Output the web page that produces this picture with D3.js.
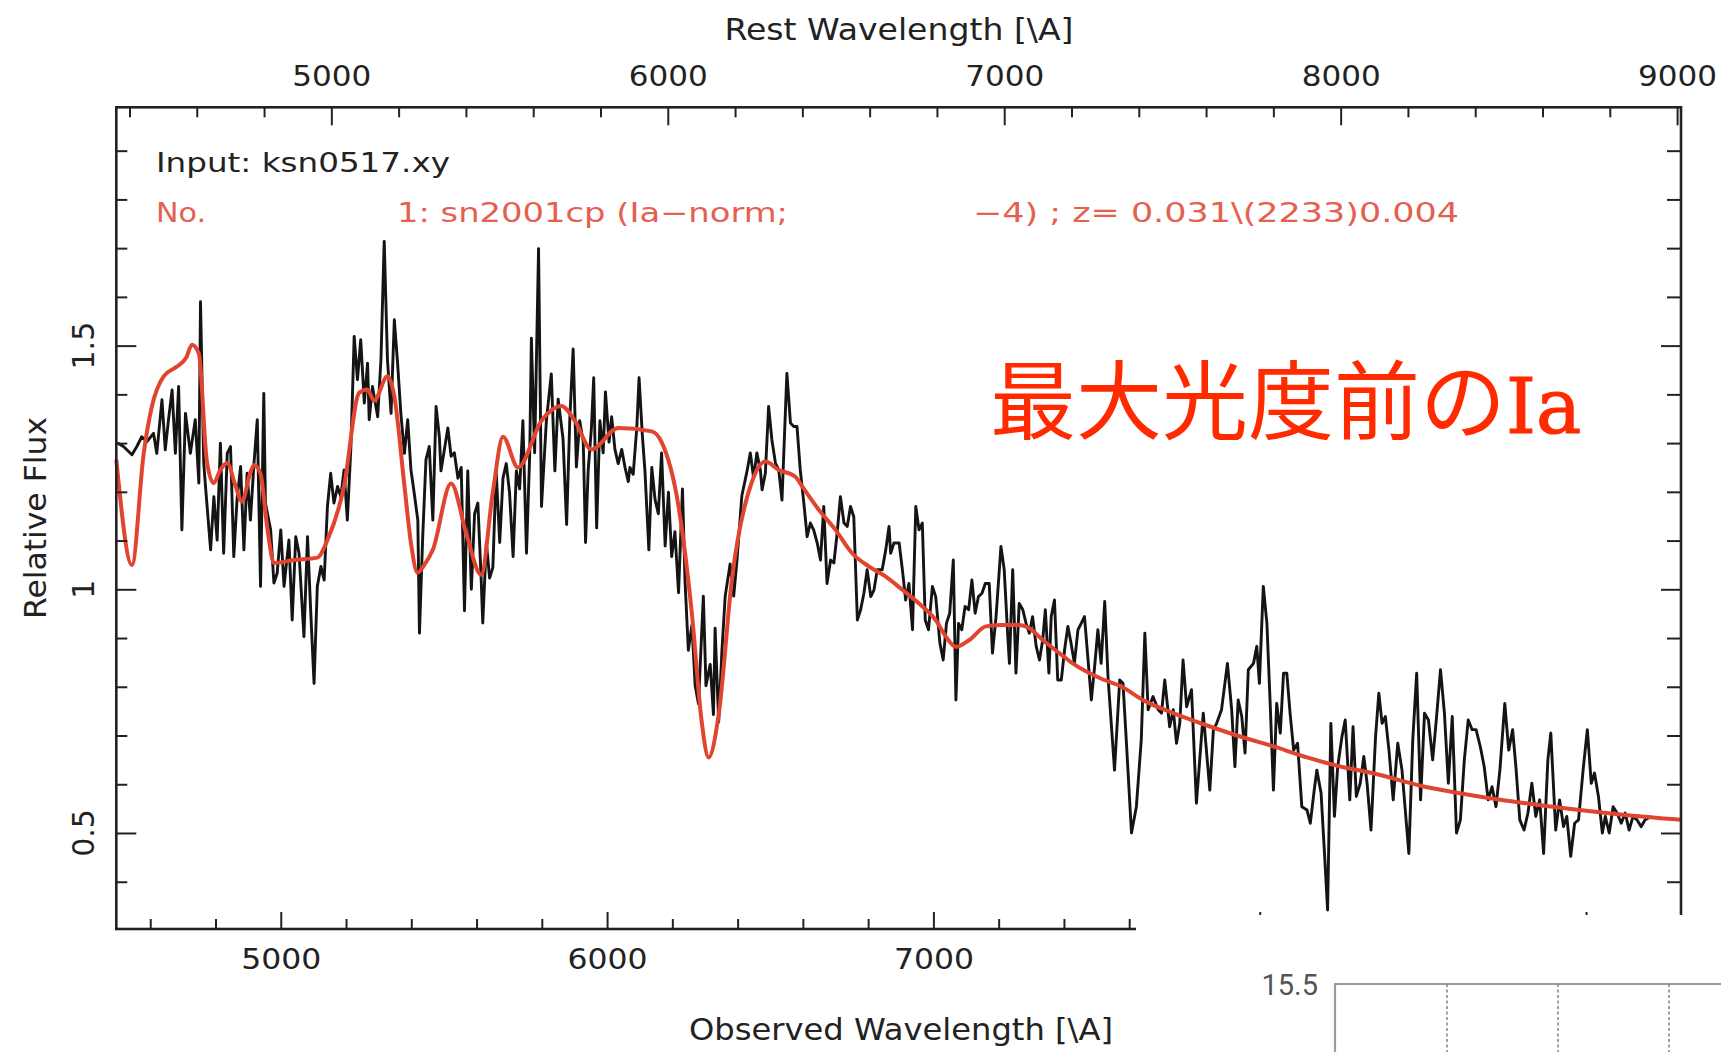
<!DOCTYPE html>
<html><head><meta charset="utf-8">
<script src="https://cdn.jsdelivr.net/npm/d3@7"></script>
<style>body{margin:0;background:#fff;}svg{display:block;}</style>
</head><body>
<svg id="c" width="1721" height="1052"></svg>
<script>
// observed spectrum: [observed wavelength (A), relative flux]
const obsSpectrum = [
[4500,1.300],[4518,1.293],[4544,1.276],[4559,1.293],[4574,1.313],[4590,1.303],[4610,1.320],[4620,1.279],[4636,1.389],[4646,1.286],[4656,1.348],[4667,1.409],[4677,1.279],[4687,1.416],[4697,1.122],[4708,1.361],[4723,1.279],[4738,1.348],[4749,1.218],[4754,1.590],[4764,1.259],[4769,1.214],[4785,1.081],[4795,1.190],[4805,1.101],[4815,1.300],[4825,1.074],[4836,1.279],[4846,1.293],[4856,1.067],[4866,1.184],[4877,1.252],[4887,1.081],[4897,1.238],[4907,1.142],[4918,1.259],[4928,1.348],[4938,1.006],[4948,1.402],[4953,1.177],[4969,1.122],[4979,1.013],[4989,1.033],[5000,1.122],[5010,1.006],[5025,1.101],[5035,0.937],[5046,1.108],[5056,1.074],[5071,0.903],[5082,1.108],[5092,0.951],[5102,0.807],[5112,1.006],[5123,1.047],[5133,1.019],[5143,1.170],[5153,1.238],[5163,1.177],[5174,1.211],[5184,1.190],[5194,1.245],[5204,1.142],[5215,1.293],[5225,1.519],[5235,1.430],[5245,1.512],[5256,1.382],[5266,1.464],[5271,1.348],[5281,1.416],[5297,1.354],[5307,1.471],[5317,1.714],[5327,1.471],[5338,1.361],[5348,1.553],[5358,1.464],[5368,1.361],[5379,1.279],[5389,1.348],[5399,1.245],[5409,1.197],[5420,1.142],[5425,0.910],[5435,1.108],[5445,1.266],[5455,1.293],[5466,1.142],[5476,1.375],[5486,1.313],
[5491,1.243],[5512,1.331],[5522,1.273],[5532,1.280],[5543,1.228],[5553,1.250],[5563,0.956],[5573,1.243],[5584,1.000],[5594,1.155],[5604,1.177],[5614,1.023],[5619,0.931],[5630,1.096],[5640,1.023],[5650,1.045],[5660,1.243],[5671,1.096],[5681,1.228],[5691,1.258],[5701,1.199],[5712,1.067],[5722,1.243],[5732,1.206],[5742,1.346],[5753,1.074],[5763,1.280],[5768,1.515],[5778,1.280],[5790,1.699],[5799,1.170],[5814,1.346],[5829,1.442],[5840,1.243],[5850,1.390],[5865,1.309],[5876,1.133],[5886,1.354],[5896,1.493],[5906,1.251],[5916,1.346],[5927,1.302],[5934,1.096],[5942,1.243],[5952,1.331],[5959,1.434],[5968,1.126],[5978,1.346],[5988,1.280],[5995,1.405],[6006,1.302],[6014,1.354],[6024,1.287],[6034,1.258],[6045,1.287],[6055,1.250],[6065,1.221],[6070,1.250],[6080,1.236],[6091,1.331],[6098,1.434],[6108,1.317],[6116,1.243],[6128,1.081],[6137,1.250],[6147,1.184],[6157,1.155],[6167,1.280],[6178,1.089],[6188,1.199],[6198,1.067],[6208,1.118],[6219,0.993],[6231,1.206],[6239,1.015],[6249,0.875],[6260,0.927],[6270,0.802],[6280,0.765],[6295,0.986],[6303,0.802],[6316,0.846],[6326,0.743],[6331,0.920],[6342,0.728],[6352,0.875],[6362,0.986],[6377,1.052],[6388,0.986],[6398,1.059],[6413,1.192],[6429,1.243],[6439,1.280],[6449,1.228],[6459,1.280],[6470,1.243],
[6475,1.204],[6485,1.238],[6495,1.375],[6505,1.307],[6516,1.259],[6526,1.245],[6536,1.183],[6551,1.443],[6562,1.341],[6572,1.334],[6582,1.334],[6592,1.245],[6603,1.177],[6613,1.108],[6623,1.136],[6633,1.122],[6644,1.095],[6654,1.060],[6664,1.170],[6674,1.012],[6685,1.060],[6695,1.054],[6705,1.115],[6715,1.190],[6726,1.136],[6736,1.129],[6746,1.170],[6756,1.149],[6767,0.937],[6777,0.958],[6787,0.992],[6797,1.040],[6808,0.985],[6818,0.999],[6828,1.040],[6843,1.040],[6854,1.081],[6864,1.129],[6869,1.074],[6879,1.095],[6895,1.095],[6905,1.040],[6915,0.978],[6925,1.012],[6936,0.917],[6946,1.170],[6956,1.122],[6966,1.136],[6975,0.937],[6985,0.917],[6997,1.006],[7007,0.985],[7020,0.889],[7030,0.855],[7040,0.930],[7050,0.951],[7061,1.060],[7069,0.773],[7077,0.930],[7087,0.917],[7097,0.965],[7108,0.958],[7118,1.019],[7128,0.951],[7138,0.985],[7149,0.992],[7159,1.012],[7171,1.012],[7181,0.869],[7192,0.944],[7207,1.088],[7217,1.040],[7228,0.903],[7233,0.848],[7243,1.040],[7253,0.828],[7263,0.971],[7274,0.958],[7284,0.930],[7294,0.910],[7304,0.944],[7315,0.883],[7325,0.855],[7335,0.896],[7343,0.958],[7354,0.828],[7361,0.944],[7371,0.978],[7381,0.814],[7392,0.814],[7402,0.876],[7412,0.924],[7422,0.889],[7432,0.848],[7443,0.917],[7453,0.930],
[7463,0.944],[7484,0.773],[7494,0.841],[7504,0.917],[7514,0.848],[7525,0.975],[7535,0.821],[7555,0.629],[7571,0.814],[7581,0.807],[7591,0.691],[7607,0.500],[7622,0.554],[7637,0.691],[7648,0.910],[7658,0.753],[7673,0.780],[7689,0.753],[7699,0.746],[7709,0.814],[7724,0.718],[7735,0.753],[7745,0.684],[7755,0.725],[7765,0.855],[7776,0.759],[7791,0.794],[7806,0.561],[7827,0.746],[7847,0.588],[7858,0.711],[7868,0.725],[7883,0.753],[7901,0.848],[7914,0.753],[7924,0.636],[7934,0.773],[7945,0.739],[7955,0.664],[7965,0.835],[7981,0.848],[7991,0.883],[7999,0.807],[8011,1.006],[8022,0.930],[8032,0.766],[8042,0.588],[8052,0.766],[8063,0.705],[8073,0.828],[8083,0.828],[8093,0.746],[8104,0.670],[8116,0.684],[8129,0.554],[8145,0.547],[8155,0.520],[8167,0.588],[8175,0.629],[8188,0.582],[8198,0.465],[8208,0.342],[8218,0.725],[8229,0.534],[8239,0.636],[8252,0.698],[8262,0.732],[8276,0.568],[8286,0.718],[8296,0.575],[8308,0.602],[8319,0.657],[8329,0.602],[8341,0.506],[8355,0.698],[8365,0.787],[8375,0.725],[8385,0.739],[8396,0.670],[8409,0.568],[8423,0.684],[8436,0.629],
[8457,0.458],[8469,0.691],[8481,0.828],[8493,0.568],[8505,0.746],[8517,0.732],[8530,0.650],[8542,0.739],[8554,0.835],[8566,0.746],[8578,0.602],[8590,0.739],[8603,0.500],[8615,0.527],[8627,0.650],[8639,0.732],[8651,0.712],[8663,0.712],[8676,0.677],[8688,0.636],[8700,0.568],[8712,0.595],[8724,0.554],[8736,0.629],[8751,0.766],[8763,0.670],[8775,0.712],[8785,0.636],[8797,0.527],[8810,0.506],[8822,0.541],[8834,0.602],[8846,0.534],[8858,0.568],[8870,0.458],[8883,0.650],[8892,0.705],[8907,0.506],[8919,0.568],[8931,0.513],[8941,0.534],[8953,0.452],[8965,0.520],[8977,0.527],[8992,0.636],[9004,0.712],[9016,0.602],[9026,0.623],[9038,0.575],[9050,0.500],[9059,0.534],[9071,0.500],[9083,0.554],[9095,0.541],[9108,0.520],[9120,0.541],[9132,0.506],[9144,0.534],[9156,0.527],[9169,0.513],[9181,0.527],[9199,0.534]
];
// template sn2001cp: [observed wavelength (A), relative flux]
const templateSpectrum = [
[4496,1.266],[4544,1.050],[4580,1.279],[4605,1.375],[4641,1.437],[4682,1.457],[4710,1.475],[4728,1.502],[4749,1.484],[4773,1.266],[4794,1.218],[4815,1.245],[4836,1.259],[4860,1.215],[4881,1.180],[4905,1.235],[4918,1.255],[4937,1.239],[4960,1.120],[4979,1.054],[5040,1.060],[5112,1.065],[5143,1.101],[5194,1.212],[5240,1.403],[5265,1.410],[5286,1.387],[5327,1.437],[5348,1.396],[5379,1.212],[5400,1.090],[5419,1.034],[5440,1.050],[5466,1.081],[5522,1.217],[5570,1.110],[5614,1.030],[5650,1.200],[5681,1.313],[5727,1.250],[5799,1.346],[5860,1.376],[5901,1.346],[5952,1.287],[6034,1.331],[6137,1.324],[6167,1.302],[6219,1.170],[6260,0.949],[6290,0.728],[6311,0.655],[6342,0.743],[6383,1.023],[6444,1.221],[6485,1.262],[6526,1.245],[6577,1.231],[6598,1.211],[6649,1.163],[6700,1.122],[6751,1.074],[6802,1.047],[6854,1.026],[6905,0.999],[6956,0.971],[7007,0.937],[7038,0.903],[7069,0.882],[7110,0.896],[7161,0.924],[7212,0.927],[7263,0.927],[7294,0.920],[7335,0.896],[7386,0.869],[7427,0.848],[7520,0.815],[7571,0.802],[7650,0.770],[7735,0.746],[7850,0.718],[7940,0.698],[8050,0.676],[8145,0.655],[8250,0.636],[8350,0.622],[8493,0.597],[8600,0.583],[8737,0.568],[8860,0.557],[8980,0.547],[9120,0.537],[9291,0.527]
];
const redshift = 0.031;
const obsMajorTicks = [5000,6000,7000,8000,9000];
const obsLabelTicks = [5000,6000,7000];   // 8000 and 9000 labels are hidden behind the overlapping panel
const obsMinorTicks = [4600,4800,5200,5400,5600,5800,6200,6400,6600,6800,7200,7400,7600,7800,8200,8400,8600,8800,9200];
const restMajorTicks = [5000,6000,7000,8000,9000];
const restMinorTicks = [4400,4600,4800,5200,5400,5600,5800,6200,6400,6600,6800,7200,7400,7600,7800,8200,8400,8600,8800];
const fluxMajorTicks = [0.5,1,1.5];
const fluxMinorTicks = [0.4,0.6,0.7,0.8,0.9,1.1,1.2,1.3,1.4,1.6,1.7,1.8,1.9];
const fluxTickLabels = ["0.5","1","1.5"];
const insetYTicks = [15.5];
const insetXGrid = [1,2,3];

const svg = d3.select("#c");
const L = 116.3, R = 1681, T = 107.3, B = 929;
const x = d3.scaleLinear().domain([4496, 9291]).range([L, R]);
const xRest = d3.scaleLinear().domain([4496/(1+redshift), 9291/(1+redshift)]).range([L, R]);
const y = d3.scaleLinear().domain([0.303, 1.989]).range([B, T]);
const AX = "#222";
const FONT = "'DejaVu Sans', sans-serif";

// spectra
svg.append("path").datum(obsSpectrum)
  .attr("d", d3.line().x(d=>x(d[0])).y(d=>y(d[1])))
  .attr("fill","none").attr("stroke","#141414").attr("stroke-width",2.9)
  .attr("stroke-linejoin","round");
svg.append("path").datum(templateSpectrum)
  .attr("d", d3.line().x(d=>x(d[0])).y(d=>y(d[1])).curve(d3.curveMonotoneX))
  .attr("fill","none").attr("stroke","#e2452f").attr("stroke-width",4)
  .attr("stroke-linejoin","round");

function addAxis(axis, tx, ty){
  const g = svg.append("g").attr("transform",`translate(${tx},${ty})`).call(axis);
  g.select(".domain").remove();
  g.selectAll("line").attr("stroke",AX).attr("stroke-width",2);
  g.selectAll("text").attr("fill",AX).attr("font-family",FONT);
  return g;
}
// bottom
addAxis(d3.axisBottom(x).tickValues(obsMajorTicks).tickSizeInner(-17).tickSizeOuter(0).tickFormat(""), 0, B);
const gb = addAxis(d3.axisBottom(x).tickValues(obsLabelTicks).tickSize(0).tickFormat(d3.format("d")), 0, B);
gb.selectAll("text").attr("y",40).attr("dy",null).attr("font-size",29).attr("textLength",80).attr("lengthAdjust","spacingAndGlyphs");
addAxis(d3.axisBottom(x).tickValues(obsMinorTicks).tickSizeInner(-10).tickSizeOuter(0).tickFormat(""), 0, B);
// top (rest wavelength)
const gt = addAxis(d3.axisTop(xRest).tickValues(restMajorTicks).tickSizeInner(-18).tickSizeOuter(0).tickPadding(21).tickFormat(d3.format("d")), 0, T);
gt.selectAll("text").attr("font-size",28).attr("textLength",79).attr("lengthAdjust","spacingAndGlyphs");
addAxis(d3.axisTop(xRest).tickValues(restMinorTicks).tickSizeInner(-10).tickSizeOuter(0).tickFormat(""), 0, T);
// left
addAxis(d3.axisLeft(y).tickValues(fluxMajorTicks).tickSizeInner(-20).tickSizeOuter(0).tickFormat(""), L, 0);
addAxis(d3.axisLeft(y).tickValues(fluxMinorTicks).tickSizeInner(-11).tickSizeOuter(0).tickFormat(""), L, 0);
// right
addAxis(d3.axisRight(y).tickValues(fluxMajorTicks).tickSizeInner(-20).tickSizeOuter(0).tickFormat(""), R, 0);
addAxis(d3.axisRight(y).tickValues(fluxMinorTicks).tickSizeInner(-14).tickSizeOuter(0).tickFormat(""), R, 0);
// rotated y tick labels
svg.append("g").selectAll("text").data(fluxMajorTicks).join("text")
  .attr("x",94).attr("y",d=>y(d))
  .attr("transform",d=>`rotate(-90,94,${y(d)})`)
  .attr("text-anchor","middle").attr("font-family",FONT).attr("font-size",30).attr("fill",AX)
  .text((d,i)=>fluxTickLabels[i]);

// frame
svg.append("rect").attr("x",L).attr("y",T).attr("width",R-L).attr("height",B-T)
  .attr("fill","none").attr("stroke",AX).attr("stroke-width",2.6);

// axis titles
svg.append("text").attr("x",899).attr("y",40).attr("text-anchor","middle")
  .attr("font-family",FONT).attr("font-size",30).attr("fill",AX)
  .attr("textLength",349).attr("lengthAdjust","spacingAndGlyphs").text("Rest Wavelength [\\A]");
svg.append("text").attr("x",901).attr("y",1040).attr("text-anchor","middle")
  .attr("font-family",FONT).attr("font-size",31).attr("fill",AX)
  .attr("textLength",424).attr("lengthAdjust","spacingAndGlyphs").text("Observed Wavelength [\\A]");
svg.append("text").attr("x",46).attr("y",518).attr("transform","rotate(-90,46,518)")
  .attr("text-anchor","middle").attr("font-family",FONT).attr("font-size",30).attr("fill",AX)
  .attr("textLength",202).attr("lengthAdjust","spacingAndGlyphs").text("Relative Flux");

// annotations
svg.append("text").attr("x",156).attr("y",172).attr("font-family",FONT).attr("font-size",27)
  .attr("fill",AX).attr("textLength",294).attr("lengthAdjust","spacingAndGlyphs").text("Input: ksn0517.xy");
const RED_T = "#e4604f";
svg.append("text").attr("x",156).attr("y",222).attr("font-family",FONT).attr("font-size",27)
  .attr("fill",RED_T).attr("textLength",50).attr("lengthAdjust","spacingAndGlyphs").text("No.");
svg.append("text").attr("x",397).attr("y",222).attr("font-family",FONT).attr("font-size",27)
  .attr("fill",RED_T).attr("textLength",391).attr("lengthAdjust","spacingAndGlyphs").text("1: sn2001cp (Ia\u2212norm;");
svg.append("text").attr("x",973).attr("y",222).attr("font-family",FONT).attr("font-size",27)
  .attr("fill",RED_T).attr("textLength",486).attr("lengthAdjust","spacingAndGlyphs").text("\u22124) ; z= 0.031\\(2233)0.004");

// big Japanese label
const big = svg.append("text").attr("x",990).attr("y",433).attr("fill","#ff2a00")
  .attr("font-family","'Noto Sans CJK JP', sans-serif").attr("font-size",86);
big.append("tspan").text("最大光度前の");
big.append("tspan").attr("font-family","'DejaVu Serif', serif").attr("font-size",76)
  .attr("stroke","#ff2a00").attr("stroke-width",1.2).text("Ia");

// overlapping white panel with a fragment of another chart
svg.append("rect").attr("x",1136).attr("y",915).attr("width",1721-1136).attr("height",1052-915).attr("fill","#fff");
const xi = d3.scaleLinear().domain([0,3]).range([1336,1669]);
const yi = d3.scaleLinear().domain([15.5,15.0]).range([984,1200]);
svg.append("line").attr("x1",xi(0)-2).attr("x2",1721).attr("y1",yi(15.5)).attr("y2",yi(15.5))
  .attr("stroke","#9a9a9a").attr("stroke-width",2.2);
svg.append("line").attr("x1",xi(0)-1).attr("x2",xi(0)-1).attr("y1",yi(15.5)).attr("y2",1052)
  .attr("stroke","#9a9a9a").attr("stroke-width",2.2);
svg.append("g").selectAll("line").data(insetXGrid).join("line")
  .attr("x1",d=>xi(d)).attr("x2",d=>xi(d)).attr("y1",yi(15.5)).attr("y2",1052)
  .attr("stroke","#8a8a8a").attr("stroke-width",1.6).attr("stroke-dasharray","3,2.5");
svg.append("g").selectAll("text").data(insetYTicks).join("text")
  .attr("x",1318).attr("y",d=>yi(d)+11).attr("text-anchor","end")
  .attr("font-family","Roboto, 'Liberation Sans', sans-serif").attr("font-size",29).attr("fill","#555")
  .text(d=>d3.format(".1f")(d));
</script>
</body></html>
